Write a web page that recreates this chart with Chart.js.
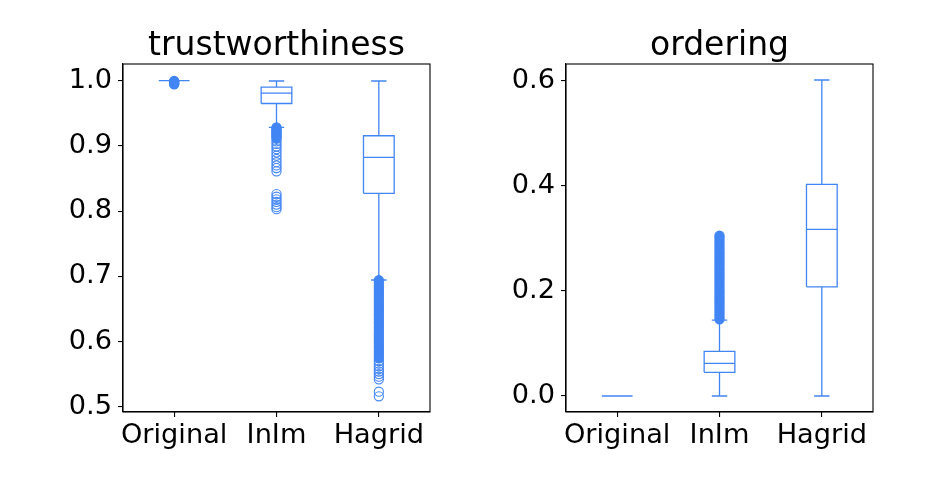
<!DOCTYPE html>
<html><head><meta charset="utf-8">
<script src="https://cdn.jsdelivr.net/npm/chart.js@4/dist/chart.umd.min.js"></script>
<style>
html,body{margin:0;padding:0;background:#fff;}
#wrap{position:relative;width:928px;height:480px;background:#fff;}
.panel{position:absolute;top:0;width:464px;height:480px;}
</style></head><body>
<div id="wrap">
<div class="panel" style="left:0"><canvas id="c1" width="464" height="480"></canvas></div>
<div class="panel" style="left:464px"><canvas id="c2" width="464" height="480"></canvas></div>
</div>
<script>
const categories = ['Original', 'InIm', 'Hagrid'];

// trustworthiness panel
const trustTicks = [0.5, 0.6, 0.7, 0.8, 0.9, 1.0];
const trustMin = [1.0, 0.9285, 0.6943];
const trustQ1  = [1.0, 0.965, 0.8273];
const trustMed = [1.0, 0.981, 0.8825];
const trustQ3  = [1.0, 0.990, 0.9156];
const trustMax = [1.0, 0.9995, 0.9995];
const trustOutOriginalDense = [0.9995, 0.999, 0.998, 0.997, 0.996, 0.995, 0.9945];
const trustOutInImDense = [0.9285, 0.927, 0.925, 0.923, 0.921, 0.919, 0.917, 0.915, 0.913, 0.911];
const trustOutInImSparse = [0.907, 0.903, 0.899, 0.895, 0.890, 0.885, 0.880, 0.875, 0.870, 0.866, 0.861,
                            0.826, 0.822, 0.818, 0.814, 0.810, 0.806, 0.803];
const trustOutHagridDense = [0.694, 0.690, 0.686, 0.682, 0.678, 0.674, 0.670, 0.666, 0.662, 0.658, 0.654,
                             0.650, 0.646, 0.642, 0.638, 0.634, 0.630, 0.626, 0.622, 0.618, 0.614, 0.610,
                             0.606, 0.602, 0.598, 0.594, 0.590, 0.586, 0.582, 0.578, 0.574];
const trustOutHagridSparse = [0.570, 0.566, 0.562, 0.558, 0.554, 0.550, 0.546, 0.542, 0.523, 0.516];

// ordering panel
const ordTicks = [0.0, 0.2, 0.4, 0.6];
const ordMin = [0.0, 0.0, 0.0];
const ordQ1  = [0.0, 0.045, 0.2078];
const ordMed = [0.0, 0.062, 0.317];
const ordQ3  = [0.0, 0.085, 0.4025];
const ordMax = [0.0, 0.1445, 0.6013];
const ordOutInImDense = [0.146, 0.151, 0.156, 0.161, 0.166, 0.171, 0.176, 0.181, 0.186, 0.191, 0.196,
                         0.201, 0.206, 0.211, 0.216, 0.221, 0.226, 0.231, 0.236, 0.241, 0.246, 0.251,
                         0.256, 0.261, 0.266, 0.271, 0.276, 0.281, 0.286, 0.291, 0.296, 0.301, 0.305];

const BLUE = '#4285f4';
const BOX_HALF = 0.15, CAP_HALF = 0.075;
const FONT = "'DejaVu Sans', sans-serif";

function boxLines(mins, q1s, meds, q3s, maxs) {
  const pts = [];
  const gap = (x) => pts.push({x: x, y: null});
  for (let i = 0; i < categories.length; i++) {
    const x = i + 1;
    pts.push({x: x - BOX_HALF, y: q1s[i]}, {x: x + BOX_HALF, y: q1s[i]}, {x: x + BOX_HALF, y: q3s[i]},
             {x: x - BOX_HALF, y: q3s[i]}, {x: x - BOX_HALF, y: q1s[i]}); gap(x);
    pts.push({x: x - BOX_HALF, y: meds[i]}, {x: x + BOX_HALF, y: meds[i]}); gap(x);
    pts.push({x: x, y: q3s[i]}, {x: x, y: maxs[i]}); gap(x);
    pts.push({x: x, y: q1s[i]}, {x: x, y: mins[i]}); gap(x);
    pts.push({x: x - CAP_HALF, y: maxs[i]}, {x: x + CAP_HALF, y: maxs[i]}); gap(x);
    pts.push({x: x - CAP_HALF, y: mins[i]}, {x: x + CAP_HALF, y: mins[i]}); gap(x);
  }
  return pts;
}
function fliers(catIndex, values) { return values.map(v => ({x: catIndex + 1, y: v})); }

const framePlugin = {
  id: 'frame',
  afterDraw(chart, args, opts) {
    const a = chart.chartArea, ctx = chart.ctx;
    ctx.save();
    ctx.strokeStyle = '#000'; ctx.lineWidth = 1.1;
    ctx.strokeRect(a.left, a.top, a.right - a.left, a.bottom - a.top);
    ctx.fillStyle = '#000';
    ctx.font = "33px " + FONT;
    ctx.textAlign = 'center'; ctx.textBaseline = 'alphabetic';
    ctx.fillText(opts.text, (a.left + a.right) / 2, a.top - 9.5);
    ctx.restore();
  }
};

function makeChart(id, title, tickVals, yMin, yMax, yWidth, padRight, boxData, dense, sparse) {
  const datasets = [{
    data: boxData, showLine: true, borderColor: BLUE, borderWidth: 1.3, pointRadius: 0,
    tension: 0, spanGaps: false, borderJoinStyle: 'miter'
  }, {
    data: dense, showLine: false, pointRadius: 4.6, pointBorderWidth: 1.1,
    borderColor: BLUE, backgroundColor: BLUE, pointBackgroundColor: BLUE, pointBorderColor: BLUE
  }, {
    data: sparse, showLine: false, pointRadius: 4.6, pointBorderWidth: 1.1,
    borderColor: BLUE, pointBorderColor: BLUE, backgroundColor: 'rgba(0,0,0,0)', pointBackgroundColor: 'rgba(0,0,0,0)'
  }];
  return new Chart(document.getElementById(id), {
    type: 'scatter',
    data: {datasets},
    options: {
      responsive: false, animation: false,
      layout: {padding: {left: 0, right: padRight, top: 64, bottom: 0}},
      plugins: {
        legend: {display: false}, tooltip: {enabled: false},
        title: {display: false},
        frame: {text: title}
      },
      scales: {
        x: {
          type: 'linear', min: 0.5, max: 3.5,
          afterBuildTicks: s => { s.ticks = categories.map((c, i) => ({value: i + 1})); },
          afterFit: s => { s.height = 68; },
          ticks: {callback: (v, idx) => categories[idx], color: '#000', font: {family: FONT, size: 27.2}, padding: 3, maxRotation: 0, autoSkip: false},
          grid: {display: true, drawOnChartArea: false, drawTicks: true, tickLength: 5, color: '#000', lineWidth: 1.1},
          border: {display: true, color: '#000', width: 1.1}
        },
        y: {
          type: 'linear', min: yMin, max: yMax,
          afterBuildTicks: s => { s.ticks = tickVals.map(v => ({value: v})); },
          afterFit: s => { s.width = yWidth; },
          ticks: {callback: v => v.toFixed(1), color: '#000', font: {family: FONT, size: 27.2}, padding: 6},
          grid: {display: true, drawOnChartArea: false, drawTicks: true, tickLength: 5, color: '#000', lineWidth: 1.1},
          border: {display: true, color: '#000', width: 1.1}
        }
      }
    },
    plugins: [framePlugin]
  });
}

makeChart('c1', 'trustworthiness', trustTicks, 0.4919, 1.0256, 123, 34,
  boxLines(trustMin, trustQ1, trustMed, trustQ3, trustMax),
  [].concat(fliers(0, trustOutOriginalDense), fliers(1, trustOutInImDense), fliers(2, trustOutHagridDense)),
  [].concat(fliers(1, trustOutInImSparse), fliers(2, trustOutHagridSparse)));

makeChart('c2', 'ordering', ordTicks, -0.0304, 0.6317, 102, 55,
  boxLines(ordMin, ordQ1, ordMed, ordQ3, ordMax),
  fliers(1, ordOutInImDense),
  []);
</script>
</body></html>
